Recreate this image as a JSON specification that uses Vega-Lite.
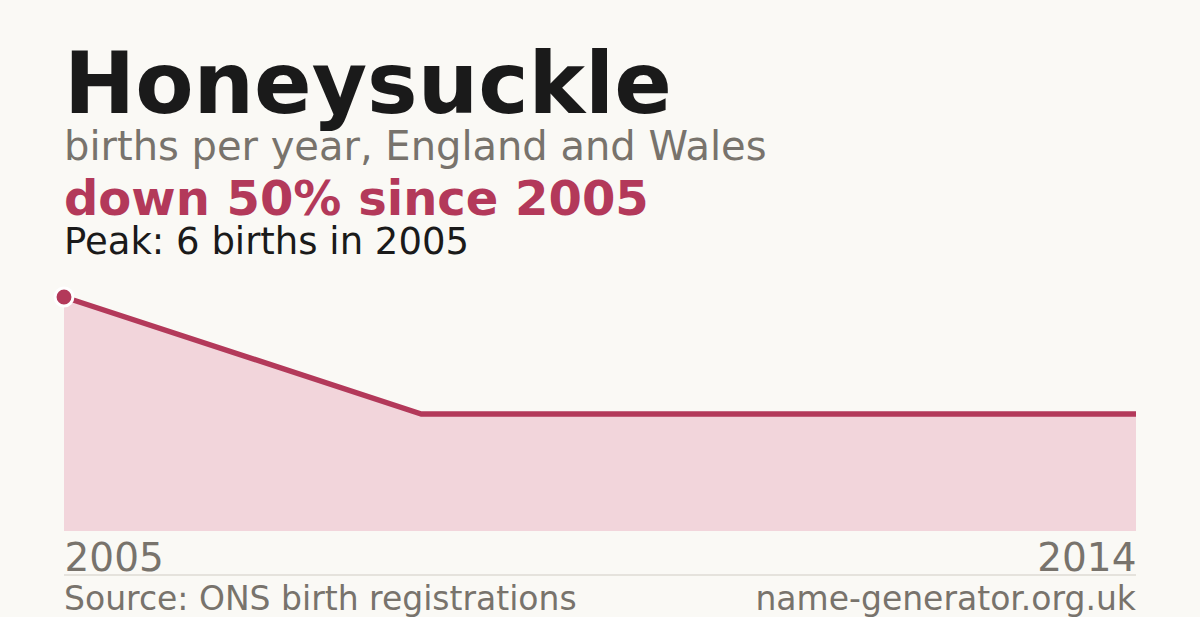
{
  "$schema": "https://vega.github.io/schema/vega-lite/v6.json",
  "background": "#faf9f5",
  "padding": {"left": 49, "right": 64, "top": 45, "bottom": 0},
  "config": {"font": "DejaVu Sans", "view": {"stroke": null}},
  "title": {
    "text": "Honeysuckle",
    "subtitle": "births per year, England and Wales",
    "anchor": "start",
    "frame": "group",
    "fontSize": 85,
    "fontWeight": "bold",
    "color": "#1a1a1a",
    "subtitleFontSize": 40,
    "subtitleColor": "#78736c",
    "subtitlePadding": -3,
    "offset": 8
  },
  "datasets": {
    "births": [
      {"year": 2005, "births": 6},
      {"year": 2008, "births": 3},
      {"year": 2009, "births": 3},
      {"year": 2010, "births": 3},
      {"year": 2011, "births": 3},
      {"year": 2012, "births": 3},
      {"year": 2013, "births": 3},
      {"year": 2014, "births": 3}
    ],
    "footer": [
      {"label": "Source: ONS birth registrations", "side": "left"},
      {"label": "name-generator.org.uk", "side": "right"}
    ]
  },
  "bounds": "flush",
  "spacing": 44,
  "vconcat": [
    {
      "title": {
        "text": "down 50% since 2005",
        "subtitle": "Peak: 6 births in 2005",
        "anchor": "start",
        "frame": "group",
        "fontSize": 48,
        "fontWeight": "bold",
        "color": "#b3395a",
        "subtitleFontSize": 37,
        "subtitleColor": "#1a1a1a",
        "subtitlePadding": 0,
        "offset": 21
      },
      "width": 1072,
      "height": 234,
      "data": {"name": "births"},
      "encoding": {
        "x": {
          "field": "year",
          "type": "quantitative",
          "scale": {"domain": [2005, 2014]},
          "axis": {
            "values": [2005, 2014],
            "format": "d",
            "labelFontSize": 39,
            "labelColor": "#78736c",
            "labelFlush": true,
            "labelPadding": 8,
            "ticks": false,
            "domain": false,
            "grid": false,
            "title": null
          }
        },
        "y": {
          "field": "births",
          "type": "quantitative",
          "scale": {"domain": [0, 6]},
          "axis": null
        }
      },
      "layer": [
        {"mark": {"type": "area", "color": "#f2d5db"}},
        {"mark": {"type": "line", "color": "#b3395a", "strokeWidth": 5.5}},
        {
          "transform": [{"filter": "datum.year == 2005"}],
          "mark": {
            "type": "point",
            "filled": true,
            "fill": "#b3395a",
            "stroke": "#ffffff",
            "strokeWidth": 3,
            "strokeOpacity": 1,
            "opacity": 1,
            "size": 320
          }
        }
      ]
    },
    {
      "width": 1072,
      "height": 35,
      "data": {"name": "footer"},
      "layer": [
        {
          "mark": {"type": "rule", "color": "#dedbd4", "strokeWidth": 1},
          "encoding": {
            "x": {"datum": 0, "type": "quantitative", "scale": {"domain": [0, 1]}, "axis": null},
            "x2": {"datum": 1},
            "y": {"datum": 1, "type": "quantitative", "scale": {"domain": [0, 1]}, "axis": null}
          }
        },
        {
          "transform": [{"filter": "datum.side == 'left'"}],
          "mark": {"type": "text", "align": "left", "baseline": "alphabetic", "fontSize": 33, "color": "#78736c"},
          "encoding": {
            "text": {"field": "label"},
            "x": {"datum": 0, "type": "quantitative"},
            "y": {"datum": 0, "type": "quantitative"}
          }
        },
        {
          "transform": [{"filter": "datum.side == 'right'"}],
          "mark": {"type": "text", "align": "right", "baseline": "alphabetic", "fontSize": 33, "color": "#78736c"},
          "encoding": {
            "text": {"field": "label"},
            "x": {"datum": 1, "type": "quantitative"},
            "y": {"datum": 0, "type": "quantitative"}
          }
        }
      ]
    }
  ]
}
